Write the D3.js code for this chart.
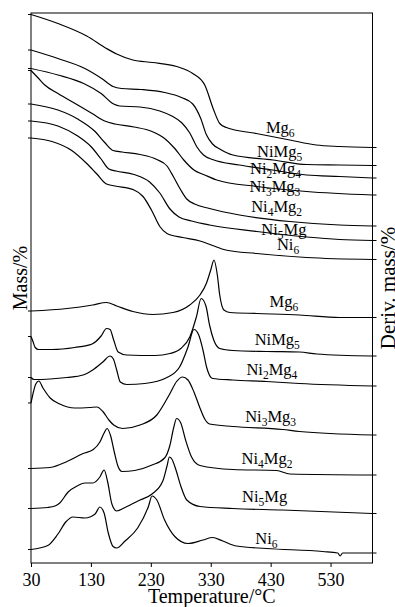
<!DOCTYPE html>
<html>
<head>
<meta charset="utf-8">
<script src="https://cdn.jsdelivr.net/npm/d3@7"></script>
<style>
  body { margin: 0; background: #fff; }
  text { font-family: "Liberation Serif", "Times New Roman", serif; fill: #000; }
</style>
</head>
<body>
<div id="chart"></div>
<script>
// sample names, top to bottom
var samples = ["Mg6", "NiMg5", "Ni2Mg4", "Ni3Mg3", "Ni4Mg2", "Ni5Mg", "Ni6"];
var xTicks = [30, 130, 230, 330, 430, 530];

// TG curves: [temperature °C, offset signal]
var tg_Mg6 = [[30,109.7],[75,107.9],[123,105.4],[156,102.9],[173,101.8],[200,100.6],[233,100.1],[273,99.3],[300,97.9],[320,95.6],[334,90.9],[345,87.9],[356,87.1],[406,85.9],[462,84.6],[506,83.6],[545,83.3],[600,83.1]];
var tg_NiMg5 = [[30,102.6],[75,100.9],[120,98.9],[148,96.9],[167,95.3],[181,94.9],[214,94.7],[253,94.1],[281,93.1],[300,91.8],[313,89],[323,85.6],[333,83.8],[345,82.8],[367,81.6],[434,80.6],[490,79.7],[545,79.6],[600,79.5]];
var tg_Ni2Mg4 = [[30,98.9],[75,97.6],[118,95.9],[147,93.9],[168,91.8],[178,91.4],[212,91.2],[245,90.4],[265,89.4],[282,88],[295,86],[307,83.2],[318,81.6],[333,80.7],[378,79.6],[433,78.6],[490,77.6],[545,77.3],[600,77]];
var tg_Ni3Mg3 = [[30,98.5],[42,97],[53,95.6],[75,93.9],[108,91.6],[132,89.9],[153,88.4],[170,87.8],[202,87.2],[232,86.3],[253,84.9],[270,82.9],[285,80.6],[302,78.6],[320,77.6],[340,76.6],[407,75.3],[490,74.3],[600,73.6]];
var tg_Ni4Mg2 = [[30,91.8],[75,90.6],[108,88.8],[137,86.3],[153,84.1],[167,82.5],[182,82.2],[212,81.7],[240,80.7],[257,79.4],[268,77.2],[280,74.6],[290,72.8],[303,71.8],[328,70.9],[378,69.6],[462,68.3],[545,67.6],[600,67.4]];
var tg_Ni5Mg = [[30,88.4],[75,87.4],[108,85.4],[130,83.3],[147,80.8],[160,78.8],[172,78.4],[202,77.7],[228,76.2],[245,74],[262,70.8],[277,69.2],[298,68.4],[328,67.6],[407,66.3],[490,65.2],[545,64.7],[600,64.5]];
var tg_Ni6 = [[30,85],[65,84.3],[98,82.5],[123,79.9],[140,77.8],[156,75.8],[170,75.4],[202,74.6],[217,73.3],[231,70.6],[245,67.3],[257,65.9],[283,65.1],[312,64.4],[333,63.5],[355,62.6],[407,61.9],[490,61.1],[600,60.7]];

// DTG curves
var dtg_Mg6 = [[30,50.4],[90,50.9],[133,51.6],[156,52.1],[173,51.4],[200,50.3],[233,49.7],[267,50.1],[295,51.6],[312,53.6],[323,56],[330,58.6],[335.5,60.6],[341,57.6],[345,53.6],[352,50.6],[362,50.1],[407,49.9],[478,49.6],[545,49.1],[600,49.1]];
var dtg_NiMg5 = [[30,45.3],[33,44.4],[37,43.1],[42.5,42.7],[65,42.7],[103,43.1],[132,43.8],[147,45.4],[156,46.9],[162,46.7],[168,44.6],[175.5,42.2],[190,41.6],[237,41.5],[262,41.9],[280,42.9],[295,45.2],[306,49.2],[314,52.9],[322,51.4],[328,47.6],[335,44.6],[345,42.9],[367,42.5],[423,42.3],[478,42.2],[507,41.8],[600,41.4]];
var dtg_Ni2Mg4 = [[30,37.1],[35,36.7],[62,36.8],[90,37.1],[117,37.6],[133,38.6],[150,40.2],[162,41.4],[167.5,40.8],[173,38.6],[179,36.2],[190,35.7],[220,35.9],[257,37.1],[278,39.2],[292,43.2],[302,46.7],[310,45.6],[317,42.6],[323,39.2],[333,36.9],[367,36.6],[423,36.3],[478,35.9],[600,35.4]];
var dtg_Ni3Mg3 = [[30,32],[34,34.2],[38,35.8],[43,36.4],[50,35],[62,33],[78,31.8],[103,31],[128,31.1],[140,31.2],[150,30.3],[160,28.6],[168,27.6],[183,26.9],[212,27.6],[240,29.6],[262,33.9],[273,36.3],[283,37.2],[292,36.6],[302,34.2],[312,31],[320,28.8],[328,27.8],[367,27.3],[450,26.7],[478,26.3],[600,25.6]];
var dtg_Ni4Mg2 = [[30,18.9],[62,19.1],[90,20.3],[117,21.9],[134,22.7],[145,24.2],[152,26],[157,26.9],[163,25.4],[169,22.2],[175,19.4],[182,18.3],[203,18.5],[232,19.6],[253,21],[262,23.6],[268,27],[273,28.9],[280,28],[288,24.6],[298,21.2],[312,19.5],[367,18.7],[440,18.5],[462,17.8],[600,17.6]];
var dtg_Ni5Mg = [[30,10.9],[58,11.1],[70,11.4],[78,12],[92,14.2],[107,15.4],[120,16],[133,16],[145,17.2],[152,18.6],[158,16.2],[165,11.8],[173,10.4],[187,11.1],[212,12.6],[232,13.8],[250,16.4],[257,19.4],[261,21.2],[265,20.8],[272,18.6],[280,15.4],[290,12.6],[312,11.3],[367,10.9],[450,10.6],[600,9.9]];
var dtg_Ni6 = [[30,2.7],[58,3.5],[75,5.8],[88,8.2],[100,9.2],[120,9],[137,9.8],[145,11.2],[152,10],[159,6],[167,3.3],[173,3],[187,4.4],[208,7],[226,11.3],[232,13.4],[240,12.6],[253,8.6],[270,5.3],[292,3.9],[317,4.6],[333,5.1],[350,4.4],[373,3.4],[423,2.9],[517,2.3],[542,2],[546,1.4],[550,2],[600,2]];

var tgCurves = [tg_Mg6, tg_NiMg5, tg_Ni2Mg4, tg_Ni3Mg3, tg_Ni4Mg2, tg_Ni5Mg, tg_Ni6];
var dtgCurves = [dtg_Mg6, dtg_NiMg5, dtg_Ni2Mg4, dtg_Ni3Mg3, dtg_Ni4Mg2, dtg_Ni5Mg, dtg_Ni6];

// layout: where each curve name sits, in chart units
var tgLabelAt = [[446,86],[445,81.3],[438,77.9],[437,74.3],[440,70.3],[452,65.6],[459,62.6]];
var dtgLabelAt = [[452,51.3],[441,43.6],[432,37.6],[430,28.3],[424,19.9],[420,12.3],[423,3.9]];

var width = 395, height = 607;
var margin = {top: 13, right: 22.5, bottom: 44, left: 31};
var labelSize = 16.5, subSize = 11.5;

var svg = d3.select("#chart")
            .append("svg")
            .attr("width", width)
            .attr("height", height);

var x = d3.scaleLinear().domain([30, 600]).range([margin.left, width - margin.right]);
var y = d3.scaleLinear().domain([0, 110]).range([height - margin.bottom, margin.top]);

var line = d3.line()
             .x(function(d) { return x(d[0]); })
             .y(function(d) { return y(d[1]); })
             .curve(d3.curveMonotoneX);

// frame
svg.append("rect")
   .attr("x", x(30))
   .attr("y", margin.top)
   .attr("width", x(600) - x(30))
   .attr("height", height - margin.bottom - margin.top)
   .attr("fill", "none")
   .attr("stroke", "#000")
   .attr("stroke-width", 1);

var xAxis = svg.append("g")
               .attr("transform", "translate(0," + (height - margin.bottom) + ")")
               .call(d3.axisBottom(x).tickValues(xTicks).tickSize(4).tickSizeOuter(0).tickPadding(6));
xAxis.select(".domain").remove();
xAxis.selectAll("text").style("font-size", "18px").style("font-family", "'Liberation Serif', serif");

var allCurves = tgCurves.concat(dtgCurves);

svg.selectAll(".curve")
   .data(allCurves)
   .enter()
   .append("path")
   .attr("class", "curve")
   .attr("d", line)
   .attr("fill", "none")
   .attr("stroke", "#000")
   .attr("stroke-width", 1.2);

// small marks where each curve meets the side axes
svg.selectAll(".ltick")
   .data(allCurves)
   .enter()
   .append("line")
   .attr("x1", x(30) - 3)
   .attr("x2", x(30))
   .attr("y1", function(d) { return y(d[0][1]); })
   .attr("y2", function(d) { return y(d[0][1]); })
   .attr("stroke", "#000");

svg.selectAll(".rtick")
   .data(allCurves)
   .enter()
   .append("line")
   .attr("x1", x(600))
   .attr("x2", x(600) + 4)
   .attr("y1", function(d) { return y(d[d.length - 1][1]); })
   .attr("y2", function(d) { return y(d[d.length - 1][1]); })
   .attr("stroke", "#000");

function drawLabel(name, pos) {
  var t = svg.append("text")
             .attr("x", x(pos[0]))
             .attr("y", y(pos[1]))
             .attr("text-anchor", "middle")
             .style("font-size", labelSize + "px");
  var down = false;
  name.split(/(\d)/).forEach(function(p) {
    if (!p) return;
    if (/\d/.test(p)) {
      t.append("tspan").attr("dy", 4).style("font-size", subSize + "px").text(p);
      down = true;
    } else {
      t.append("tspan").attr("dy", down ? -4 : 0).text(p);
      down = false;
    }
  });
}

samples.forEach(function(s, i) {
  drawLabel(s, tgLabelAt[i]);
  drawLabel(s, dtgLabelAt[i]);
});

// axis titles
svg.append("text")
   .attr("x", (x(30) + x(600)) / 2 + 10)
   .attr("y", height - 4)
   .attr("text-anchor", "middle")
   .style("font-size", "20px")
   .text("Temperature/°C");

svg.append("text")
   .attr("transform", "translate(27," + 278 + ") rotate(-90)")
   .attr("text-anchor", "middle")
   .style("font-size", "20px")
   .text("Mass/%");

svg.append("text")
   .attr("transform", "translate(395," + 288 + ") rotate(-90)")
   .attr("text-anchor", "middle")
   .style("font-size", "21px")
   .text("Deriv. mass/%");
</script>
</body>
</html>
